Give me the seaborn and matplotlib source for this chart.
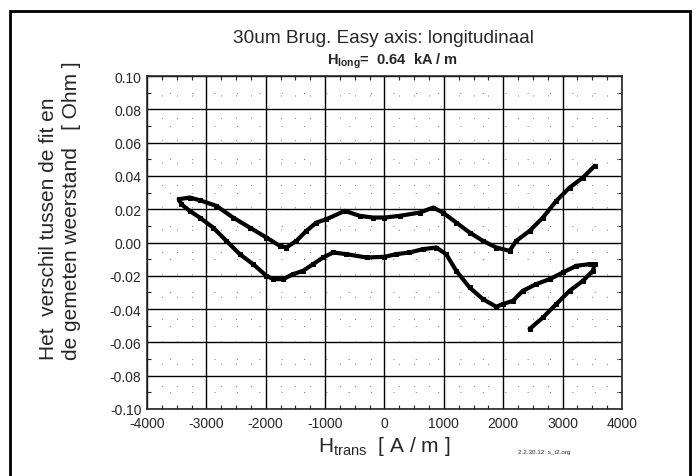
import numpy as np
import pandas as pd
import matplotlib
matplotlib.use('Agg')
import matplotlib.pyplot as plt
from matplotlib.ticker import MultipleLocator
from matplotlib.patches import Rectangle
import seaborn as sns

# meetpunten, in volgorde van de meting (start rechtsonder, eindigt rechtsboven)
h_trans = [2444, 2669, 2893, 3118, 3343, 3511, 3539, 3455, 3230, 3006, 2781, 2556,
           2331, 2163, 1994, 1882, 1657, 1433, 1208, 1039, 871, 646, 421, 197, 0,
           -303, -640, -865, -1034, -1202, -1371, -1539, -1708, -1876, -1989,
           -2213, -2438, -2663, -2888, -3112, -3281, -3421, -3466,
           -3281, -3112, -2831, -2551, -2270, -1989, -1764, -1652, -1483, -1315,
           -1146, -978, -669, -416, -191, 0, 253, 596, 820, 983, 1208, 1433, 1657,
           1882, 2107, 2219, 2444, 2669, 2893, 3118, 3343, 3539]
delta_r = [-0.052, -0.045, -0.037, -0.029, -0.023, -0.017, -0.013, -0.013, -0.014,
           -0.018, -0.022, -0.025, -0.029, -0.035, -0.037, -0.0386, -0.034, -0.027,
           -0.017, -0.007, -0.003, -0.004, -0.006, -0.007, -0.0086,
           -0.009, -0.007, -0.006, -0.009, -0.013, -0.017, -0.019, -0.022, -0.022,
           -0.020, -0.013, -0.007, 0.001, 0.009, 0.015, 0.019, 0.023, 0.026,
           0.027, 0.0254, 0.022, 0.015, 0.009, 0.003, -0.002, -0.003, 0.001, 0.007,
           0.012, 0.014, 0.019, 0.016, 0.015, 0.015, 0.016, 0.018, 0.021, 0.018,
           0.012, 0.006, 0.001, -0.003, -0.005, 0.001, 0.007, 0.015, 0.025, 0.033,
           0.039, 0.046]

x_ticks = [-4000, -3000, -2000, -1000, 0, 1000, 2000, 3000, 4000]
y_ticks = [-0.10, -0.08, -0.06, -0.04, -0.02, 0.00, 0.02, 0.04, 0.06, 0.08, 0.10]

df = pd.DataFrame({'h': h_trans, 'dr': delta_r})

sns.set_style('ticks')
plt.rcParams['font.family'] = ['Liberation Sans', 'DejaVu Sans']
plt.rcParams['mathtext.fontset'] = 'custom'
plt.rcParams['mathtext.rm'] = 'Liberation Sans'
plt.rcParams['mathtext.bf'] = 'Liberation Sans:bold'

fig = plt.figure(figsize=(6.98, 4.77), dpi=100)
ax = fig.add_axes([0.2106, 0.1405, 0.6805, 0.698])

sns.lineplot(data=df, x='h', y='dr', sort=False, estimator=None, ax=ax,
             color='black', linewidth=3.0, marker='s', markersize=2.5,
             markeredgecolor='black')

ax.set_xlim(-4000, 4000)
ax.set_ylim(-0.10, 0.10)
ax.set_xticks(x_ticks)
ax.set_yticks(y_ticks)
ax.set_xticklabels([str(v) for v in x_ticks], fontsize=10)
ax.set_yticklabels(['%.2f' % v for v in y_ticks], fontsize=10)
ax.xaxis.set_minor_locator(MultipleLocator(250))
ax.yaxis.set_minor_locator(MultipleLocator(0.01))
ax.tick_params(axis='x', which='major', length=0, pad=5)
ax.tick_params(axis='y', which='major', length=0, pad=4)
ax.tick_params(which='minor', direction='in', length=3, width=0.8,
               top=True, right=True, bottom=True, left=True)
ax.grid(which='major', color='black', linewidth=1.0)
ax.grid(which='minor', color='black', linewidth=0.7, linestyle=(0, (1, 22)), alpha=0.55)
for s in ax.spines.values():
    s.set_linewidth(1.2)

ax.set_xlabel('H$_{\\mathrm{trans}}$  [ A / m ]', fontsize=15, labelpad=3)
ax.set_ylabel('Het  verschil tussen de fit en\nde gemeten weerstand   [ Ohm ]',
              fontsize=15, linespacing=1.25, multialignment='left')
ax.yaxis.set_label_coords(-0.14, 0.6)

fig.text(0.55, 0.92, '30um Brug. Easy axis: longitudinaal', ha='center',
         va='center', fontsize=13.7)
fig.text(0.563, 0.872, 'H$_{\\mathbf{long}}$=  0.64  kA / m', ha='center', va='center',
         fontsize=10.5, fontweight='bold')
fig.text(0.78, 0.052, '2.2.30.12: s_t2.org', ha='center', va='center', fontsize=4.5)

fig.patches.append(Rectangle((0.014, -0.02), 0.974, 0.995, transform=fig.transFigure,
                             fill=False, edgecolor='black', linewidth=2))

fig.savefig('out.png', dpi=100, facecolor='white')
